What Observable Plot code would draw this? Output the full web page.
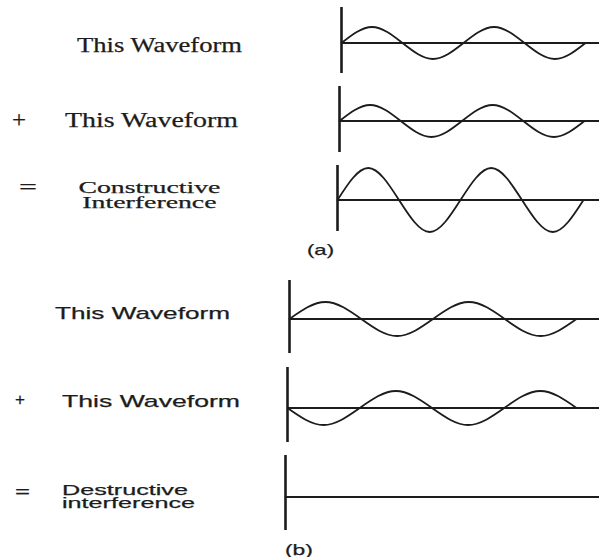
<!DOCTYPE html>
<html>
<head>
<meta charset="utf-8">
<script src="https://cdn.jsdelivr.net/npm/d3@7"></script>
<script src="https://cdn.jsdelivr.net/npm/@observablehq/plot@0.6"></script>
<style>
  html, body { margin: 0; padding: 0; background: #fff; }
  #fig { position: relative; width: 599px; height: 557px; overflow: hidden; background: #fff; }
  .row { position: absolute; }
  .lbl { position: absolute; white-space: pre; color: #1c1c1c; -webkit-text-stroke: 0.25px #1c1c1c; }
  .serif { font-family: "Liberation Serif", "DejaVu Serif", serif; }
  .sans { font-family: "Liberation Sans", Arial, sans-serif; }
</style>
</head>
<body>
<div id="fig"></div>
<script>
// ---- data (quarter-cycle samples of each waveform) ----
const quarterSteps = [0, 1, 2, 3, 4, 5, 6, 7, 8];
const waveA1 = [0, 1, 0, -1, 0, 1, 0, -1, 0];
const waveA2 = [0, 1, 0, -1, 0, 1, 0, -1, 0];
const waveA3 = [0, 2, 0, -2, 0, 2, 0, -2, 0];
const waveB1 = [0, 1, 0, -1, 0, 1, 0, -1, 0];
const waveB2 = [0, -1, 0, 1, 0, -1, 0, 1, 0];
const waveB3 = [0, 0, 0, 0, 0, 0, 0, 0, 0];

const labelsA = ["This Waveform", "This Waveform", "Constructive\nInterference"];
const labelsB = ["This Waveform", "This Waveform", "Destructive\ninterference"];
const operators = ["+", "="];
const panelTags = ["(a)", "(b)"];

// ---- layout (pixel placement of each strip) ----
const rows = [
  {wave: waveA1, x0: 341, xEnd: 585, top: 7,   bottom: 73,  base: 43,  unit: 16},
  {wave: waveA2, x0: 339, xEnd: 584, top: 86,  bottom: 152, base: 121, unit: 16},
  {wave: waveA3, x0: 337, xEnd: 583, top: 165, bottom: 231, base: 200, unit: 16},
  {wave: waveB1, x0: 289, xEnd: 576, top: 280, bottom: 353, base: 319, unit: 17},
  {wave: waveB2, x0: 287, xEnd: 576, top: 367, bottom: 442, base: 408, unit: 17},
  {wave: waveB3, x0: 285, xEnd: 576, top: 455, bottom: 530, base: 497, unit: 17}
];

const fig = document.getElementById("fig");
const ink = "#1c1c1c";
const FIG_W = 599;
const PAD = 2;

rows.forEach(r => {
  const data = quarterSteps.map((t, i) => ({t, v: r.wave[i]}));
  const plotW = FIG_W - r.x0;
  const xMax = quarterSteps[quarterSteps.length - 1] * plotW / (r.xEnd - r.x0);
  const chart = Plot.plot({
    width: plotW + PAD,
    height: r.bottom - r.top,
    marginLeft: PAD, marginRight: 0, marginTop: 0, marginBottom: 0,
    x: {domain: [0, xMax], axis: null},
    y: {domain: [-(r.bottom - r.base) / r.unit, (r.base - r.top) / r.unit], axis: null},
    style: {background: "transparent", overflow: "visible"},
    marks: [
      Plot.line(data, {x: "t", y: "v", curve: "natural", stroke: ink, strokeWidth: 1.8, dy: -0.5}),
      Plot.ruleY([0], {stroke: ink, strokeWidth: 2, dy: -0.5}),
      Plot.ruleX([0], {stroke: ink, strokeWidth: 2.6})
    ]
  });
  chart.style.display = "block";
  chart.style.maxWidth = "none";
  const holder = document.createElement("div");
  holder.className = "row";
  holder.style.left = (r.x0 - PAD) + "px";
  holder.style.top = r.top + "px";
  holder.style.width = (plotW + PAD) + "px";
  holder.appendChild(chart);
  fig.appendChild(holder);
});

// ---- text labels ----
// left/right: target horizontal extent; baseline: first line baseline; lh: line step (px)
function label(text, left, right, baseline, fs, fam, lh, align) {
  const el = document.createElement("div");
  el.className = "lbl " + fam;
  el.textContent = text;
  el.style.fontSize = fs + "px";
  const step = lh || Math.round(fs);
  el.style.lineHeight = step + "px";
  el.style.textAlign = align || "left";
  const asc = fam === "serif" ? 0.891 : 0.905;
  const desc = fam === "serif" ? 0.216 : 0.212;
  const firstBase = (step - (asc + desc) * fs) / 2 + asc * fs;
  el.style.left = left + "px";
  el.style.top = (baseline - firstBase) + "px";
  fig.appendChild(el);
  const w = el.getBoundingClientRect().width;
  el.style.transformOrigin = align === "center" ? "50% 0" : "0 0";
  if (w > 0) {
    const s = (right - left) / w;
    if (align === "center") el.style.left = ((left + right) / 2 - w / 2) + "px";
    el.style.transform = `scaleX(${s})`;
  }
  return el;
}

// panel (a) – serif
label(labelsA[0], 77, 242, 52, 20, "serif");
label(operators[0], 12, 26, 127, 24, "serif");
label(labelsA[1], 65, 238, 127, 20, "serif");
label(operators[1], 19, 37, 194, 22, "serif");
label(labelsA[2], 78, 220, 193, 17, "serif", 15, "center");
label(panelTags[0], 307, 334, 255, 15, "sans");

// panel (b) – sans
label(labelsB[0], 55, 230, 319, 17, "sans");
label(operators[0], 15, 25, 405, 17, "sans");
label(labelsB[1], 62, 240, 407, 17, "sans");
label(operators[1], 15, 30, 497, 17, "sans");
label(labelsB[2], 62, 195, 495, 15, "sans", 13, "left");
label(panelTags[1], 285, 313, 555, 15, "sans");
</script>
</body>
</html>
